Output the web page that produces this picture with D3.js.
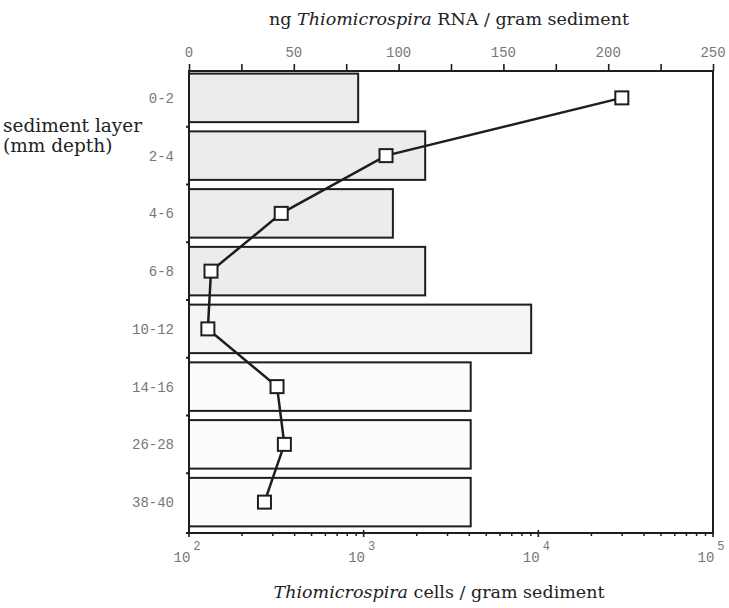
<!DOCTYPE html>
<html>
<head>
  <meta charset="utf-8">
  <title>Thiomicrospira in sediment layers</title>
  <script src="https://d3js.org/d3.v7.min.js"></script>
  <style>
    body { margin: 0; background: #fff; }
    .tick-label { font-family: "Liberation Mono", monospace; font-size: 14px; fill: #777; }
    .title { font-family: "DejaVu Serif", serif; font-size: 17.5px; fill: #222; }
  </style>
</head>
<body>
  <div id="chart"></div>
  <script>
    // sediment layers (mm depth), top to bottom
    const layers = ["0-2", "2-4", "4-6", "6-8", "10-12", "14-16", "26-28", "38-40"];
    // Thiomicrospira cells / gram sediment (bars, log axis at bottom)
    const cells = [930, 2250, 1470, 2250, 9100, 4100, 4100, 4100];
    // ng Thiomicrospira RNA / gram sediment (line, linear axis at top)
    const rna = [206.5, 94, 44, 10.5, 9, 42, 45.5, 36];
    const rnaTicks = [0, 50, 100, 150, 200, 250];
    const cellExponents = [2, 3, 4, 5];

    const W = 729, H = 608;
    const margin = { top: 71, right: 16, bottom: 75, left: 189 };
    const width = W - margin.left - margin.right;
    const height = H - margin.top - margin.bottom;

    const svg = d3.select("#chart").append("svg")
      .attr("width", W)
      .attr("height", H);

    const g = svg.append("g")
      .attr("transform", "translate(" + margin.left + "," + margin.top + ")");

    // scales
    const xRna = d3.scaleLinear().domain([0, 250]).range([0, width]);
    const xCells = d3.scaleLog().domain([1e2, 1e5]).range([0, width]);
    const y = d3.scaleBand().domain(layers).range([-2, height - 2]).paddingInner(0.16).paddingOuter(0.08);

    // bars - upper layers have a grey speckled fill in the original
    const fills = ["#ececec", "#ececec", "#ececec", "#ececec", "#f5f5f5", "#fcfcfc", "#fcfcfc", "#fcfcfc"];
    g.selectAll(".bar")
      .data(layers)
      .enter().append("rect")
      .attr("class", "bar")
      .attr("x", 0)
      .attr("y", d => y(d))
      .attr("width", (d, i) => xCells(cells[i]))
      .attr("height", y.bandwidth())
      .attr("fill", (d, i) => fills[i])
      .attr("stroke", "#1e1e1e")
      .attr("stroke-width", 2);

    // frame: top, right, bottom, left
    g.append("path")
      .attr("d", "M0,0H" + width + "V" + height + "H0Z")
      .attr("fill", "none")
      .attr("stroke", "#1e1e1e")
      .attr("stroke-width", 2);

    // top axis (RNA)
    const topAxis = g.append("g")
      .call(d3.axisTop(xRna).tickValues(d3.range(0, 251, 25)).tickSize(7).tickFormat(""));
    topAxis.select(".domain").remove();
    topAxis.selectAll("line").attr("stroke", "#1e1e1e").attr("stroke-width", 1.6);
    g.selectAll(".rna-label")
      .data(rnaTicks)
      .enter().append("text")
      .attr("class", "tick-label")
      .attr("x", d => xRna(d))
      .attr("y", -14)
      .attr("text-anchor", "middle")
      .text(d => d);

    // bottom axis (cells, log)
    const minor = [];
    for (let e = 2; e < 5; e++) for (let k = 2; k <= 9; k++) minor.push(k * Math.pow(10, e));
    const botAxis = g.append("g")
      .attr("transform", "translate(0," + height + ")")
      .call(d3.axisBottom(xCells).tickValues(minor).tickSize(3).tickFormat(""));
    botAxis.select(".domain").remove();
    botAxis.selectAll("line").attr("stroke", "#1e1e1e").attr("stroke-width", 1.5);
    g.selectAll(".major")
      .data(cellExponents)
      .enter().append("line")
      .attr("x1", d => xCells(Math.pow(10, d)))
      .attr("x2", d => xCells(Math.pow(10, d)))
      .attr("y1", height - 3)
      .attr("y2", height + 4)
      .attr("stroke", "#1e1e1e")
      .attr("stroke-width", 1.6);
    const expLabels = g.selectAll(".exp-label")
      .data(cellExponents)
      .enter().append("text")
      .attr("class", "tick-label")
      .attr("x", d => xCells(Math.pow(10, d)) - 2)
      .attr("y", height + 29)
      .attr("text-anchor", "middle");
    expLabels.append("tspan").text("10");
    expLabels.append("tspan")
      .attr("dx", 3)
      .attr("dy", -12)
      .style("font-size", "12px")
      .text(d => d);

    // left axis: small ticks at layer boundaries and layer labels
    const bounds = layers.slice(1).map(d => y(d) - y.step() * y.paddingInner() / 2);
    bounds.push(height);
    g.selectAll(".ytick")
      .data(bounds)
      .enter().append("line")
      .attr("x1", -3).attr("x2", 0)
      .attr("y1", d => d).attr("y2", d => d)
      .attr("stroke", "#1e1e1e")
      .attr("stroke-width", 2);
    g.selectAll(".layer-label")
      .data(layers)
      .enter().append("text")
      .attr("class", "tick-label")
      .attr("x", -15)
      .attr("y", d => y(d) + y.bandwidth() / 2 + 5)
      .attr("text-anchor", "end")
      .text(d => d);

    // RNA line with square markers
    const pts = layers.map((d, i) => [xRna(rna[i]), y(d) + y.bandwidth() / 2]);
    g.append("path")
      .attr("d", d3.line()(pts))
      .attr("fill", "none")
      .attr("stroke", "#1e1e1e")
      .attr("stroke-width", 2.5);
    g.selectAll(".marker")
      .data(pts)
      .enter().append("rect")
      .attr("x", d => d[0] - 6.5)
      .attr("y", d => d[1] - 6.5)
      .attr("width", 13)
      .attr("height", 13)
      .attr("fill", "#fff")
      .attr("stroke", "#1e1e1e")
      .attr("stroke-width", 2);

    // titles
    const topTitle = svg.append("text")
      .attr("class", "title")
      .attr("x", 449)
      .attr("y", 25)
      .attr("text-anchor", "middle");
    topTitle.append("tspan").text("ng ");
    topTitle.append("tspan").style("font-style", "italic").text("Thiomicrospira");
    topTitle.append("tspan").text(" RNA / gram sediment");

    const botTitle = svg.append("text")
      .attr("class", "title")
      .attr("x", 439)
      .attr("y", 598)
      .attr("text-anchor", "middle");
    botTitle.append("tspan").style("font-style", "italic").text("Thiomicrospira");
    botTitle.append("tspan").text(" cells / gram sediment");

    svg.append("text")
      .attr("class", "title")
      .style("font-size", "18.5px")
      .attr("x", 3)
      .attr("y", 132)
      .text("sediment layer");
    svg.append("text")
      .attr("class", "title")
      .style("font-size", "18.5px")
      .attr("x", 3)
      .attr("y", 152)
      .text("(mm depth)");
  </script>
</body>
</html>
